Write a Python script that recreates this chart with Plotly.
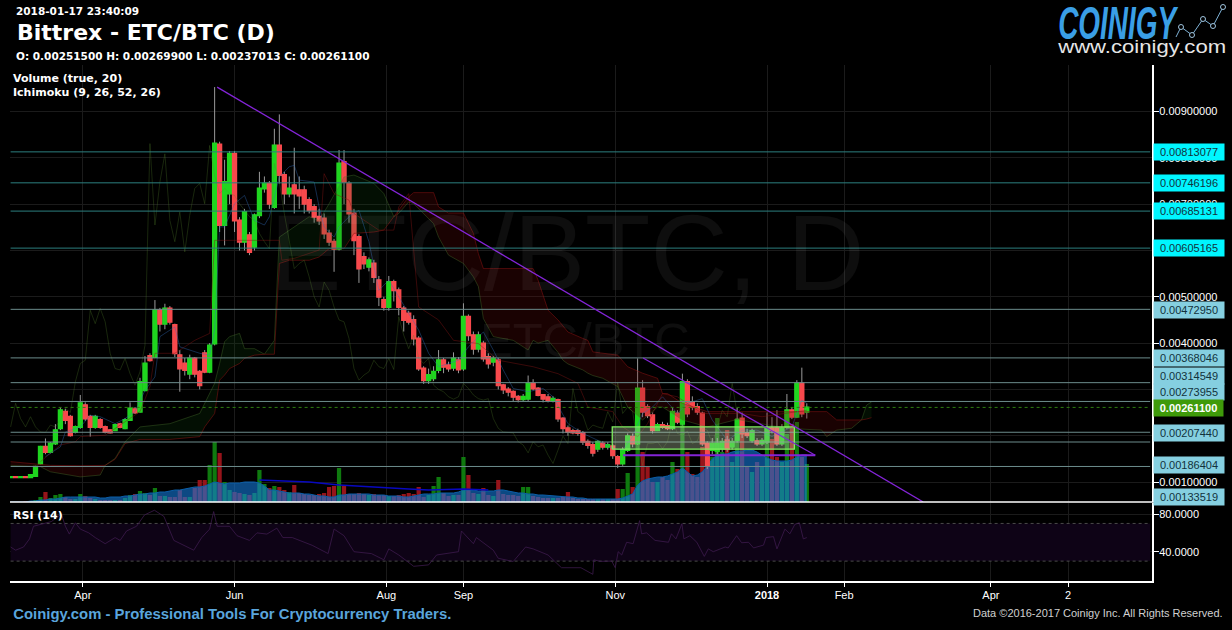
import pandas as pd
import plotly.graph_objects as go

W, H = 1232, 630

# ---- candles, prices in 1e-5 BTC, one row entry every two days from 2017-03-03
start_date = "2017-03-03"
opens = [110,111,110,111,110,113,140,176,165,183,216,252,241,208,219,266,241,219,234,219,
         212,212,225,216,234,257,252,298,372,370,471,442,475,439,374,356,334,367,338,378,
         338,399,829,655,723,809,665,619,633,608,676,734,745,694,827,763,723,741,730,730,
         709,694,673,669,637,619,604,791,745,680,629,586,565,572,536,493,478,532,514,475,
         464,450,410,345,320,324,342,363,352,347,363,345,457,417,388,399,370,360,363,309,
         300,295,284,279,280,313,302,288,283,277,277,237,216,210,210,206,187,180,172,183,
         176,177,154,140,169,198,183,302,262,244,212,223,221,216,248,226,316,273,262,248,
         183,169,167,172,190,176,190,237,206,190,188,183,187,216,216,183,219,255,241,313,
         251.5]
closes = [111,110,111,110,115,133,176,165,183,212,255,234,201,219,270,237,219,241,219,208,
          207,223,219,234,259,250,316,356,363,471,442,475,446,378,345,342,367,334,309,338,
          395,831,655,748,809,665,619,683,597,676,734,745,701,827,763,723,734,723,719,701,
          687,673,665,637,619,604,788,748,680,622,561,572,579,543,500,478,532,514,478,450,
          446,410,345,320,331,338,363,349,345,367,343,457,417,388,417,367,356,367,309,300,
          295,284,279,284,313,302,288,280,277,280,237,216,208,207,206,187,180,163,187,176,
          180,158,140,169,199,183,302,252,244,212,223,219,216,252,230,316,248,262,252,183,
          136,183,183,187,172,187,234,205,201,210,183,189,216,212,183,216,255,241,313,248,
          261.1]
highs = [112,112,112,112,116,135,178,194,186,225,262,258,245,222,288,272,245,245,238,222,
         214,226,228,238,272,262,325,372,378,493,476,485,480,442,385,368,375,370,342,385,
         400,953,835,796,815,815,672,690,640,680,770,760,750,863,894,770,760,822,760,740,
         715,700,690,680,645,625,817,817,750,690,635,596,585,580,545,500,545,537,520,480,
         470,460,415,350,345,350,385,368,360,380,370,486,462,425,425,405,378,372,368,312,
         305,298,288,290,330,322,305,290,290,285,280,240,222,215,215,210,192,186,190,188,
         186,182,158,175,205,205,367,320,268,250,228,230,228,262,255,334,322,285,270,252,
         188,195,195,195,200,195,260,250,215,215,195,195,250,240,255,225,290,262,320,347,
         269.9]
lows = [109,109,109,109,109,112,138,160,162,180,212,225,198,205,215,232,198,215,215,205,
        205,210,216,214,232,247,250,296,360,368,425,430,440,370,295,330,322,326,300,335,
        335,395,640,611,700,640,600,600,590,600,670,725,690,690,745,700,715,680,690,680,
        680,660,655,625,610,554,600,700,660,590,530,560,555,530,480,470,470,490,460,425,
        440,395,340,312,312,318,335,335,338,340,335,340,405,375,380,360,345,350,300,290,
        285,275,272,275,275,298,285,272,272,272,230,205,200,203,200,180,172,155,165,170,
        170,150,130,135,165,175,180,240,238,205,210,215,212,212,225,222,240,255,245,178,
        128,160,160,165,165,170,185,195,195,185,178,178,182,205,178,178,215,236,238,240,
        237.013]
volumes = [0,0,0,1,1,2,5,10,4,7,8,5,3,3,8,6,4,3,2,2,2,2,2,4,7,8,11,9,7,14,6,6,5,5,12,5,5,14,22,22,
           37,60,49,20,12,10,9,8,7,9,32,18,14,16,15,12,10,17,9,8,7,7,8,9,15,16,34,16,8,8,9,8,7,8,7,7,6,6,7,8,
           9,8,15,5,7,16,25,9,6,7,7,45,27,9,8,14,7,6,22,8,7,7,6,15,15,6,5,4,4,4,4,5,10,4,3,3,3,3,3,3,
           3,3,13,13,29,15,67,50,35,20,20,25,22,40,33,78,50,28,25,55,45,45,84,50,72,40,84,68,35,30,
           40,35,72,63,45,40,68,78,80,45,38]
volume_avg = [0,0,0,0,1,1,2,2,3,3,4,5,5,5,5,5,5,5,4,4,5,5,5,6,6,7,8,8,9,9,10,10,11,12,12,13,14,15,15,16,
              18,20,19,18,19,19,19,20,20,20,19,16,12,12,11,10,9,9,9,8,8,7,6,6,5,5,7,7,8,8,8,8,8,7,7,7,6,6,6,5,
              5,6,7,8,8,8,9,9,9,9,10,12,12,12,11,11,11,11,12,12,11,10,9,9,8,8,7,7,6.5,6,6,5,5,5,4,4,3,3,3,3,
              3,3,3,4,6,8,17,21,23,24,25,25,26,28,30,34,30,26,27,30,36,43,47,48,48,50,51,51,52,52,50,47,44,42,41,41,
              41,42,45,47,47]
volume_slow_idx = [50,60,66,72,80,84,91,96]
volume_slow = [22,20,17,15,13,12,13,12]

# ---- ichimoku cloud
cloud_idx = [0,6,8,14,18,19,21,23,26,32,38,39,41,42,43,44,46,47,49,51,53,54,56,60,62,64,67,69,73,75,77,78,80,81,85,86,88,91,93,94,95,97,
             101,104,105,106,108,110,111,112,115,116,117,119,122,124,127,130,131,132,135,140,146,156,163,164,166,169,171,172,173]
span_a = [136,133,122,111,115,136,151,187,219,226,248,270,313,356,403,414,421,388,388,376,406,629,644,673,665,701,759,763,745,723,673,680,705,701,658,629,590,572,543,522,453,414,
          406,385,406,400,406,380,363,355,342,335,330,324,306,262,234,262,262,255,234,219,235,216,212,198,212,216,234,266,273]
span_b = [144,138,136,135,135,136,149,183,192,192,198,219,248,320,331,345,356,367,374,376,376,572,579,579,586,604,604,637,640,644,673,687,716,725,725,694,681,681,637,593,561,561,
          561,561,561,536,471,450,437,424,410,406,381,378,374,349,335,324,291,291,270,252,252,252,252,252,234,234,234,236,239]
tenkan_idx = [7,10,11,14,16,18,21,23,25,27,29,30,33,34,36,38,40,41,42,43,45,47,49,51,52,54,56,57,58,61,62,63,65,66,68,70,72,74,76,78,80,82,84,86,90,92,95,97,99,101,104,107,109,
              112,115,118,121,123,125,127,129,131,134,136,139,141,144,147,150,153,157,159,160]
tenkan = [155,176,208,219,244,241,226,237,252,298,327,414,435,392,385,378,374,428,651,651,701,719,665,655,673,759,781,784,752,748,694,651,629,651,673,687,619,514,536,500,464,428,378,349,363,392,424,385,342,302,295,302,284,
          226,205,190,172,169,198,248,262,284,248,270,280,234,190,212,212,198,219,277,270]
kijun_idx = [6,10,13,14,19,26,28,29,33,37,40,41,54,54.5,57,62,63,65,68,69,74,77,78,80,82,86,89,94,98,105,110,114,116,121,123,126,128,131,134,139,147,151,160]
kijun = [144,180,187,198,201,252,306,378,378,406,421,622,622,579,583,601,766,723,709,680,644,644,694,723,478,450,406,399,363,349,334,313,262,252,219,198,226,291,284,248,248,241,255]

# ---- RSI
rsi_idx = [0,1,2.6,3.8,4.6,6.2,8.2,10.2,11,11.8,13,14,15.7,17,19,21,22,23.3,25.3,26.9,28.9,30.8,32.8,36.8,38.4,40,40.8,41.5,44,45.5,48,49.5,51.5,53.5,54.7,56.6,60.6,63.8,65,67,69,72.5,75,76,78,
           81,84,85.6,90,90.6,93,93.6,97,98,101,103.5,105,108,110.7,114.6,117,117.2,118.5,120.8,121.5,122.1,122.8,123.8,125.1,126.4,126.8,127.8,129.5,132.2,132.8,133.7,134.9,135.3,136.5,137.9,138.9,139.4,140.2,
           141.2,143.6,144.2,145.9,146.9,148.3,149.3,151.3,151.8,153.3,154,155.6,156.6,157.6,158.5,159.3,160]
rsi = [45,41.6,45,53.6,67,69,72,80,67,58.7,70.7,64,60,55,48.5,55,52,62,67,79,84,77.5,52,41.6,55,64,82.6,67,67,57,52,60,58.7,65,55,55,46.8,38,64,57,40,38,31.4,43,36.5,
       24.5,26,36.5,40,62,48.5,55,41.6,33,29.6,45,43,36.5,23,23,16,31.4,29.7,30,23,40,36.5,50,48.5,73,59,60,52,50,59,53.6,69.7,53.6,57,50,40,35,43,
       40,45,44,57,49.5,50,44,47,55,56,43,64,59,69,70.7,53.6,55]
rsi_bands = [70, 30]

# ---- levels and drawn tools
levels_top = [813.077, 746.196, 685.131, 605.165]
levels_low = [472.95, 368.046, 314.549, 273.955, 207.44, 186.404, 133.519]
last_price = 261.1
trend_one_idx, trend_one = [41.5, 183.4], [953, 56.8]
trend_two_idx, trend_two = [127.1, 161.7], [368, 158]
base_line_idx, base_line = [123.1, 161.7], [158, 158]
box_idx, box_vals = [120.9, 157.5], [171, 219]

# ---- axis and text
x_ticks = ["2017-04-01","2017-06-01","2017-08-01","2017-09-01","2017-11-01","2018-01-01","2018-02-01","2018-04-01","2018-05-02"]
x_labels = ["Apr","Jun","Aug","Sep","Nov","<b>2018</b>","Feb","Apr","2"]
price_ticks = [0.001*k for k in range(1, 10)]
rsi_ticks = [80, 40]
tag_cyan = [("0.00813077",151.7),("0.00746196",182.7),("0.00685131",210.7),("0.00605165",247.7)]
tag_blue = [("0.00472950",309.7),("0.00368046",357.7),("0.00314549",376),("0.00273955",392),
            ("0.00207440",432.7),("0.00186404",465),("0.00133519",496.7)]

XL, XR = 10, 1152.3
T0 = pd.Timestamp(start_date)
def d(i):
    return T0 + pd.Timedelta(days=2*i)
def scale(v):
    return [x/1e5 for x in v]
def px(x): return x/W
def py(y): return 1-y/H

dates = [d(i) for i in range(len(opens))]
fig = go.Figure()

# volume on the base axis so that price draws above it
fig.add_bar(x=dates, y=volumes, yaxis="y3", width=2*86400000*0.85, showlegend=False,
            marker=dict(color=["#0f7a0f" if c >= o else "#96141a" for o, c in zip(opens, closes)], line_width=0))
fig.add_scatter(x=dates, y=volume_avg, yaxis="y3", mode="lines", fill="tozeroy",
                fillcolor="rgba(20,125,225,0.58)", line=dict(color="#0b5ea8", width=1), showlegend=False)
fig.add_scatter(x=[d(i) for i in volume_slow_idx], y=volume_slow, yaxis="y3", mode="lines",
                line=dict(color="#0808c0", width=1.4), showlegend=False)

# cloud
runs, cur = [], [0]
for k in range(1, len(cloud_idx)):
    cur.append(k)
    s_prev = span_a[k-1] - span_b[k-1]
    s_now = span_a[k] - span_b[k]
    nxt = span_a[k+1] - span_b[k+1] if k+1 < len(cloud_idx) else s_now
    if s_now == 0 and (s_prev >= 0) != (nxt >= 0):
        runs.append(cur); cur = [k]
runs.append(cur)
for run in runs:
    up = sum(span_a[k] - span_b[k] for k in run) > 0
    xs = [d(cloud_idx[k]) for k in run] + [d(cloud_idx[k]) for k in reversed(run)]
    ys = [span_a[k] for k in run] + [span_b[k] for k in reversed(run)]
    fig.add_scatter(x=xs, y=scale(ys), mode="lines", fill="toself", line_width=0,
                    fillcolor="rgba(20,90,20,0.17)" if up else "rgba(110,8,8,0.24)", showlegend=False)
fig.add_scatter(x=[d(i) for i in cloud_idx], y=scale(span_a), mode="lines", line=dict(color="rgba(80,130,50,0.45)", width=0.8), showlegend=False)
fig.add_scatter(x=[d(i) for i in cloud_idx], y=scale(span_b), mode="lines", line=dict(color="rgba(140,20,20,0.65)", width=0.8), showlegend=False)
fig.add_scatter(x=[d(i) for i in kijun_idx], y=scale(kijun), mode="lines", line=dict(color="rgba(130,20,20,0.55)", width=0.8), showlegend=False)
fig.add_scatter(x=[d(i) for i in tenkan_idx], y=scale(tenkan), mode="lines", line=dict(color="rgba(50,110,190,0.5)", width=0.8), showlegend=False)
# lagging span: the closes drawn 26 days back
fig.add_scatter(x=[d(i-13) for i in range(13, len(closes))], y=scale(closes[13:]), mode="lines",
                line=dict(color="rgba(85,135,45,0.42)", width=0.7), showlegend=False)

# wicks, then bodies
fig.add_candlestick(x=dates, open=scale(opens), high=scale(highs), low=scale(lows), close=scale(closes),
                    increasing=dict(line=dict(color="#9a9a9a", width=1), fillcolor="#9a9a9a"),
                    decreasing=dict(line=dict(color="#9a9a9a", width=1), fillcolor="#9a9a9a"),
                    whiskerwidth=0, showlegend=False)
body_hi = [max(o, c) for o, c in zip(opens, closes)]
body_lo = [min(o, c) for o, c in zip(opens, closes)]
fig.add_candlestick(x=dates, open=scale(opens), high=scale(body_hi), low=scale(body_lo), close=scale(closes),
                    increasing=dict(line=dict(color="#1fd51f", width=2), fillcolor="#1fd51f"),
                    decreasing=dict(line=dict(color="#f8494c", width=2), fillcolor="#f8494c"),
                    whiskerwidth=0, showlegend=False)

# horizontal levels
x_span = ["2017-03-03", "2018-06-04"]
for v in levels_top:
    fig.add_scatter(x=x_span, y=scale([v, v]), mode="lines", line=dict(color="#2c7f7f", width=1), showlegend=False)
for v in levels_low:
    fig.add_scatter(x=x_span, y=scale([v, v]), mode="lines", line=dict(color="#6c8c8c", width=1), showlegend=False)
fig.add_scatter(x=x_span, y=scale([last_price, last_price]), mode="lines",
                line=dict(color="#2f7d10", width=1, dash="dot"), showlegend=False)

# drawing tools
fig.add_scatter(x=[d(box_idx[k]) for k in (0, 1, 1, 0, 0)],
                y=scale([box_vals[j] for j in (0, 0, 1, 1, 0)]), mode="lines", fill="toself",
                fillcolor="rgba(190,210,170,0.34)", line=dict(color="#80f060", width=1.3), showlegend=False)
for idx, vals, w in ((trend_one_idx, trend_one, 1.3), (trend_two_idx, trend_two, 1.2), (base_line_idx, base_line, 2)):
    fig.add_scatter(x=[d(i) for i in idx], y=scale(vals), mode="lines",
                    line=dict(color="#8424d8", width=w), showlegend=False)

# RSI pane
fig.add_scatter(x=x_span + x_span[::-1], y=[rsi_bands[0]]*2 + [rsi_bands[1]]*2, yaxis="y2", mode="lines",
                fill="toself", fillcolor="#0e0316", line_width=0, showlegend=False)
for v in rsi_bands:
    fig.add_scatter(x=x_span, y=[v, v], yaxis="y2", mode="lines",
                    line=dict(color="#4a4a4a", width=1, dash="dot"), showlegend=False)
fig.add_scatter(x=[d(i) for i in rsi_idx], y=rsi, yaxis="y2", mode="lines",
                line=dict(color="#3c1a4c", width=0.8), showlegend=False)

def text(x, y, s, size, color="#ffffff", family="DejaVu Sans", anchor="left", **kw):
    return dict(xref="paper", yref="paper", x=px(x), y=py(y), text=s, showarrow=False, xanchor=anchor,
                yanchor="middle", font=dict(family=family, size=size, color=color), **kw)

def tag(s, y, bg, color="#12323c", w=70):
    return dict(xref="paper", yref="paper", x=px(1152.5), y=py(y), text=s, showarrow=False, xanchor="left",
                yanchor="middle", width=w, height=16, align="center", bgcolor=bg, borderpad=0,
                font=dict(family="Liberation Sans", size=11, color=color))

ann = [
    text(567, 253, "ETC/BTC, D", 107, "rgba(255,255,255,0.055)", "Liberation Sans", "center"),
    text(585, 340, "ETC/BTC", 49, "rgba(255,255,255,0.055)", "Liberation Sans", "center"),
    text(14, 11, "<b>2018-01-17 23:40:09</b>", 10.5),
    text(15, 32, "<b>Bittrex - ETC/BTC (D)</b>", 22),
    text(14, 56, "<b>O: 0.00251500 H: 0.00269900 L: 0.00237013 C: 0.00261100</b>", 10.5),
    text(11, 78, "<b>Volume (true, 20)</b>", 11),
    text(11, 92, "<b>Ichimoku (9, 26, 52, 26)</b>", 11),
    text(11, 515, "<b>RSI (14)</b>", 11),
    text(233, 614, "<b>Coinigy.com - Professional Tools For Cryptocurrency Traders.</b>", 14, "#5aa5dc", "Liberation Sans", "center"),
    text(1225, 613, "Data ©2016-2017 Coinigy Inc. All Rights Reserved.", 11, "#d0d0d0", "Liberation Sans", "right"),
    text(1119, 23, "<b><i>COINIGY</i></b>", 46, "#3a9fe6", "Liberation Sans", "center"),
    text(1141, 47, "www.coinigy.com", 19, "#e6e6e6", "Liberation Sans", "center"),
]
ann += [tag(s, y, "#00f6ff") for s, y in tag_cyan]
ann += [tag(s, y, "#85cfe0") for s, y in tag_blue]
ann.append(tag("<b>0.00261100</b>", 407.7, "#3f9a0a", "#ffffff", 69))

logo_pts = [(1176, 37), (1181, 27), (1192, 35), (1203, 19), (1213, 26), (1223, 7)]
shapes = [dict(type="line", xref="paper", yref="paper", x0=px(XL), x1=px(1222), y0=py(502), y1=py(502),
               line=dict(color="#ffffff", width=1.6), layer="above")]
for (a, b), (a2, b2) in zip(logo_pts, logo_pts[1:]):
    shapes.append(dict(type="line", xref="paper", yref="paper", x0=px(a), y0=py(b), x1=px(a2), y1=py(b2),
                       line=dict(color="#7fb2d6", width=1)))
for a, b in logo_pts[1:]:
    shapes.append(dict(type="circle", xref="paper", yref="paper", x0=px(a-2.5), x1=px(a+2.5), y0=py(b-2.5), y1=py(b+2.5),
                       line=dict(color="#9fc4de", width=1), fillcolor="#000000"))

axis_font = dict(family="Liberation Sans", size=11, color="#ffffff")
fig.update_layout(
    width=W, height=H, autosize=False, margin=dict(l=0, r=0, t=0, b=0),
    paper_bgcolor="#000000", plot_bgcolor="#000000", showlegend=False, hovermode=False,
    boxgap=0.05, bargap=0.2, annotations=ann, shapes=shapes,
    xaxis=dict(type="date", domain=[px(XL), px(XR)], range=["2017-03-02 18:00", "2018-06-04 20:38"],
               anchor="y2", tickmode="array", tickvals=x_ticks, ticktext=x_labels, tickfont=axis_font,
               ticks="outside", ticklen=4, tickcolor="#ffffff", showgrid=True, gridcolor="#1b1b1b", gridwidth=1,
               showline=True, linecolor="#ffffff", linewidth=1.5, zeroline=False, rangeslider=dict(visible=False),
               ticklabelstandoff=-1),
    yaxis=dict(domain=[py(502), py(65)], range=[56.8/1e5, 1000.7/1e5], side="right", anchor="x", overlaying="y3",
               tickmode="array", tickvals=price_ticks, tickformat=".8f", tickfont=axis_font,
               ticks="outside", ticklen=5, tickcolor="#ffffff", showgrid=True, gridcolor="#1b1b1b",
               showline=True, linecolor="#ffffff", linewidth=1.5, zeroline=False, ticklabelstandoff=-2),
    yaxis2=dict(domain=[py(581), py(503)], range=[8.9, 91.7], side="right", anchor="x",
                tickmode="array", tickvals=rsi_ticks, tickformat=".4f", tickfont=axis_font,
                ticks="outside", ticklen=5, tickcolor="#ffffff", showgrid=True, gridcolor="#1b1b1b",
                showline=True, linecolor="#ffffff", linewidth=1.5, zeroline=False, ticklabelstandoff=-2),
    yaxis3=dict(domain=[py(502), py(65)], range=[0, 437], anchor="x", visible=False, showgrid=False),
)

# fit three wide texts to the widths they have in the picture
fit_script = """
document.body.style.margin='0';document.body.style.background='#000';document.documentElement.style.overflow='hidden';
var fits={'COINIGY':118,'www.coinigy.com':168,'Coinigy.com - Professional':438};
document.querySelectorAll('.annotation-text').forEach(function(t){
  Object.keys(fits).forEach(function(k){
    if(t.textContent.indexOf(k)===0){t.setAttribute('textLength',fits[k]);t.setAttribute('lengthAdjust','spacingAndGlyphs');}
  });
});
"""
fig.write_html("out.html", config=dict(displayModeBar=False), post_script=fit_script)
